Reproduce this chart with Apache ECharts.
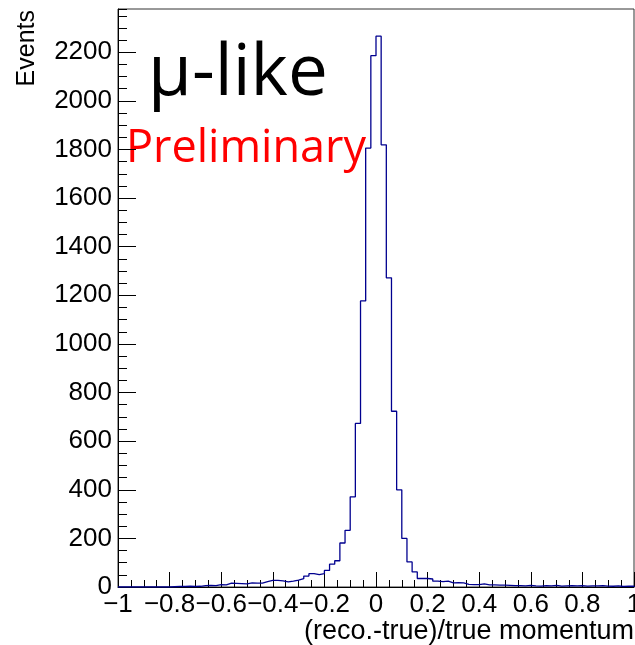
<!DOCTYPE html>
<html>
<head>
<meta charset="utf-8">
<script src="https://cdn.jsdelivr.net/npm/echarts@6/dist/echarts.min.js"></script>
<style>
html,body{margin:0;padding:0;background:#fff;}
#chart{width:635px;height:645px;}
</style>
</head>
<body>
<div id="chart"></div>
<script>
// Histogram: 100 bins of width 0.02 from -1 to 1
var binLow = -1;
var binWidth = 0.02;
var counts = [
  0, 0, 0, 0, 0, 0, 0, 0, 0, 0,
  1, 2, 2, 3, 2, 3, 6, 7, 6, 10,
  9, 16, 15, 14, 13, 17, 16, 16, 22, 27,
  27, 25, 21, 24, 28, 34, 45, 55, 51, 55,
  68, 94, 108, 181, 233, 371, 673, 1177, 1806, 2186,
  2266, 1819, 1272, 723, 400, 200, 103, 62, 35, 35,
  33, 24, 22, 24, 17, 18, 17, 11, 10, 10,
  13, 9, 9, 8, 8, 7, 6, 6, 5, 7,
  5, 4, 6, 5, 7, 4, 5, 6, 5, 6,
  4, 5, 5, 6, 4, 3, 5, 2, 4, 3
];
var xTicks = {min: -1, max: 1, interval: 0.2, minorSplit: 4};
var yTicks = {min: 0, max: 2378, interval: 200, minorInterval: 50};
var xTitle = '(reco.-true)/true momentum';
var yTitle = 'Events';
var label1 = 'μ-like';
var label2 = 'Preliminary';

var pts = [[binLow, 0]];
for (var i = 0; i < counts.length; i++) {
  pts.push([binLow + i * binWidth, counts[i]]);
}
pts.push([binLow + counts.length * binWidth, counts[counts.length - 1]]);
pts.push([binLow + counts.length * binWidth, 0]);

var font = 'Liberation Sans';
function fmt(v) {
  var s = String(Math.round(v * 1000) / 1000);
  return s.replace('-', '\u2212');
}

var chart = echarts.init(document.getElementById('chart'), null, {renderer: 'canvas'});
chart.setOption({
  animation: false,
  backgroundColor: '#fff',
  grid: {left: 118, top: 9, right: 1, bottom: 58, containLabel: false, outerBoundsMode: 'none',
         show: true, borderColor: '#333', borderWidth: 1, backgroundColor: 'transparent'},
  xAxis: {
    type: 'value', min: xTicks.min, max: xTicks.max, interval: xTicks.interval,
    axisLine: {show: true, onZero: false, lineStyle: {color: '#000', width: 1}},
    axisTick: {show: true, inside: true, length: 15, lineStyle: {color: '#000', width: 1}},
    minorTick: {show: true, splitNumber: xTicks.minorSplit, length: 7, lineStyle: {color: '#000', width: 1}},
    splitLine: {show: false},
    axisLabel: {show: true, margin: 5, fontSize: 26, color: '#000', fontFamily: font, formatter: fmt, hideOverlap: false}
  },
  yAxis: [{
    type: 'value', min: yTicks.min, max: yTicks.max, interval: yTicks.interval,
    axisLine: {show: true, onZero: false, lineStyle: {color: '#000', width: 1}},
    axisTick: {show: true, inside: true, length: 18, lineStyle: {color: '#000', width: 1}},
    splitLine: {show: false},
    axisLabel: {show: true, margin: 6, fontSize: 26, color: '#000', fontFamily: font, showMaxLabel: false,
                formatter: function (v) { return String(v); }}
  }, {
    type: 'value', position: 'left', offset: 0,
    min: yTicks.min, max: yTicks.max, interval: yTicks.minorInterval,
    axisLine: {show: false, onZero: false},
    axisTick: {show: true, inside: true, length: 9, lineStyle: {color: '#000', width: 1}},
    splitLine: {show: false},
    axisLabel: {show: false}
  }],
  series: [{
    type: 'line', step: 'end', data: pts, showSymbol: false, symbol: 'none',
    yAxisIndex: 0, clip: true,
    lineStyle: {color: '#00008f', width: 1.3}
  }],
  graphic: [
    {type: 'text', x: 27, y: 10, rotation: Math.PI / 2,
     style: {text: yTitle, fontSize: 25, fontFamily: font, fill: '#000', align: 'right', verticalAlign: 'middle'}},
    {type: 'text', x: 634, y: 632,
     style: {text: xTitle, fontSize: 27, fontFamily: font, fill: '#000', align: 'right', verticalAlign: 'middle'}},
    {type: 'text', x: 148, y: 75,
     style: {text: label1, fontSize: 71, fontFamily: 'Open Sans', fill: '#000', align: 'left', verticalAlign: 'middle'}},
    {type: 'text', x: 126, y: 149,
     style: {text: label2, fontSize: 45, fontFamily: 'Open Sans', fill: '#ff0000', align: 'left', verticalAlign: 'middle'}}
  ]
});
</script>
</body>
</html>
